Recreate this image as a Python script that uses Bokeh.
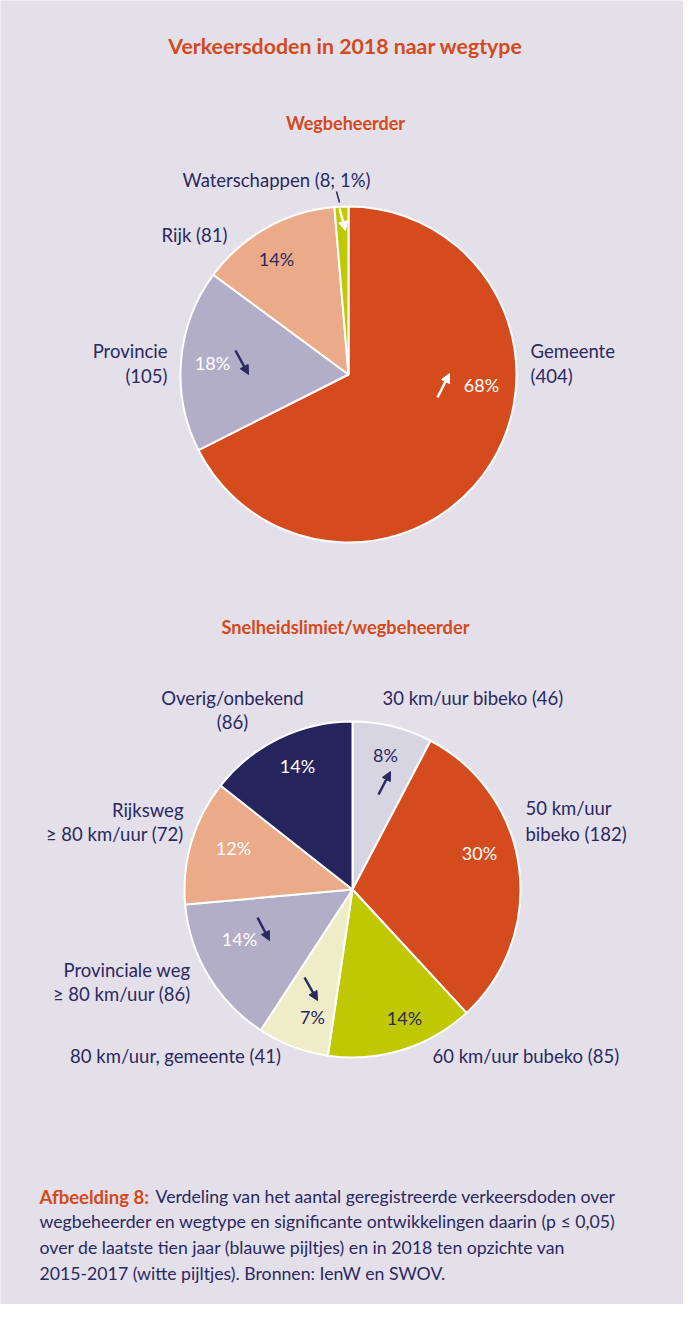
import math
from bokeh.plotting import figure
from bokeh.models import Range1d, ColumnDataSource, Arrow, NormalHead
from bokeh.core.properties import value
from bokeh.embed import file_html
from bokeh.resources import INLINE

# ---------------- data ----------------
beheer_labels = ["Gemeente", "Provincie", "Rijk", "Waterschappen"]
beheer_values = [404, 105, 81, 8]
beheer_pct = ["68%", "18%", "14%", "1%"]

snel_labels = ["30 km/uur bibeko", "50 km/uur bibeko", "60 km/uur bubeko",
               "80 km/uur, gemeente", "Provinciale weg ≥ 80 km/uur",
               "Rijksweg ≥ 80 km/uur", "Overig/onbekend"]
snel_values = [46, 182, 85, 41, 86, 72, 86]
snel_pct = ["8%", "30%", "14%", "7%", "14%", "12%", "14%"]

# ---------------- styles ----------------
BG = "#e4e0ea"
NAVY = "#2b2862"
ORANGE = "#d4491c"
beheer_colors = ["#d44c1e", "#b2aec8", "#ebaa88", "#bfc800"]
snel_colors = ["#d8d5e3", "#d44c1e", "#bfc800", "#eeedc8", "#b2aec8", "#ebaa88", "#26245c"]
FONT = "Lato"
LBL = "18.5px"
PCT = "18px"
CAP = "17.7px"

W, H = 683, 1304
PAGE_H = 1320


def Y(py):
    return PAGE_H - py


p = figure(width=W, height=H, output_backend="svg", toolbar_location=None,
           x_range=Range1d(8, 8 + W), y_range=Range1d(PAGE_H - 8 - H, PAGE_H - 8),
           x_axis_type=None, y_axis_type=None, min_border=0)
p.grid.visible = False
p.outline_line_color = None
p.background_fill_color = BG
p.border_fill_color = BG


def pie(cx, cy, r, values, colors):
    total = float(sum(values))
    starts, ends = [], []
    cum = 0.0
    for v in values:
        a0 = math.pi / 2 - 2 * math.pi * cum / total
        cum += v
        a1 = math.pi / 2 - 2 * math.pi * cum / total
        starts.append(a0)
        ends.append(a1)
    src = ColumnDataSource(dict(start=starts, end=ends, color=colors))
    p.wedge(x=cx, y=Y(cy), radius=r, start_angle="start", end_angle="end",
            direction="clock", fill_color="color", line_color="white",
            line_width=2, source=src)


pie(356, 382, 168, beheer_values, beheer_colors)
pie(360, 897, 168, snel_values, snel_colors)


def txt(x, y, s, size=LBL, color=NAVY, align="center", style="normal"):
    p.text(x=[x], y=[Y(y)], text=[s], text_font=value(FONT),
           text_font_size=size, text_color=color, text_align=align,
           text_baseline="middle", text_font_style=style)


# titles
txt(353, 53, "Verkeersdoden in 2018 naar wegtype", size="21.3px", color=ORANGE, style="bold")
txt(353, 130, "Wegbeheerder", size="18px", color=ORANGE, style="bold")
txt(353, 634, "Snelheidslimiet/wegbeheerder", size="18.2px", color=ORANGE, style="bold")

# pie 1 outer labels
txt(538, 358, beheer_labels[0], align="left")
txt(538, 383, "(%d)" % beheer_values[0], align="left")
txt(175, 358, beheer_labels[1], align="right")
txt(175, 383, "(%d)" % beheer_values[1], align="right")
txt(202, 242, "%s (%d)" % (beheer_labels[2], beheer_values[2]))
txt(284, 187, "%s (%d; %s)" % (beheer_labels[3], beheer_values[3], beheer_pct[3]))

# pie 1 percentages
pct1_pos = [(489, 392, "white"), (220, 370, "white"), (284, 266, NAVY)]
for (x, y, c), s in zip(pct1_pos, beheer_pct[:3]):
    txt(x, y, s, size=PCT, color=c)

# pie 2 outer labels
txt(390, 705, "%s (%d)" % (snel_labels[0], snel_values[0]), align="left")
txt(533, 815, "50 km/uur", align="left")
txt(533, 841, "bibeko (%d)" % snel_values[1], align="left")
txt(440, 1063, "%s (%d)" % (snel_labels[2], snel_values[2]), align="left")
txt(183, 1063, "%s (%d)" % (snel_labels[3], snel_values[3]))
txt(198, 977, "Provinciale weg", align="right")
txt(198, 1001, "≥ 80 km/uur (%d)" % snel_values[4], align="right")
txt(191, 817, "Rijksweg", align="right")
txt(191, 841, "≥ 80 km/uur (%d)" % snel_values[5], align="right")
txt(240, 705, snel_labels[6])
txt(240, 729, "(%d)" % snel_values[6])

# pie 2 percentages
pct2_pos = [(393, 762, NAVY), (487, 860, "white"), (412, 1025, NAVY), (320, 1024, NAVY),
            (247, 946, "white"), (241, 855, "white"), (305, 773, "white")]
for (x, y, c), s in zip(pct2_pos, snel_pct):
    txt(x, y, s, size=PCT, color=c)

# leader line waterschappen
p.line(x=[344, 347], y=[Y(199), Y(210)], line_color=NAVY, line_width=1.5)

# trend arrows
arrows = [
    (445, 405, 457, 381, "white"),   # Gemeente up (2018)
    (243, 358, 256, 382, NAVY),      # Provincie down (10 jaar)
    (347, 216, 353, 238, "white"),   # Waterschappen down (2018)
    (386, 802, 398, 779, NAVY),      # 30 km up
    (265, 925, 277, 948, NAVY),      # Provinciale down
    (312, 985, 325, 1008, NAVY),     # 80 km gemeente down
]
for x0, y0, x1, y1, c in arrows:
    p.add_layout(Arrow(x_start=x0, y_start=Y(y0), x_end=x1, y_end=Y(y1),
                       line_color=c, line_width=2.5,
                       end=NormalHead(size=9, fill_color=c, line_color=c, line_width=1)))

# caption
cap_lines = [
    "Verdeling van het aantal geregistreerde verkeersdoden over",
    "wegbeheerder en wegtype en significante ontwikkelingen daarin (p ≤ 0,05)",
    "over de laatste tien jaar (blauwe pijltjes) en in 2018 ten opzichte van",
    "2015-2017 (witte pijltjes). Bronnen: IenW en SWOV.",
]
cap_y = [1204, 1229, 1255, 1281]
txt(47, cap_y[0], "Afbeelding 8:", size="18.5px", color=ORANGE, align="left", style="bold")
txt(163, cap_y[0], cap_lines[0], size=CAP, align="left")
for s, y in zip(cap_lines[1:], cap_y[1:]):
    txt(47, y, s, size=CAP, align="left")

open("out.html", "w").write(file_html(p, INLINE))
